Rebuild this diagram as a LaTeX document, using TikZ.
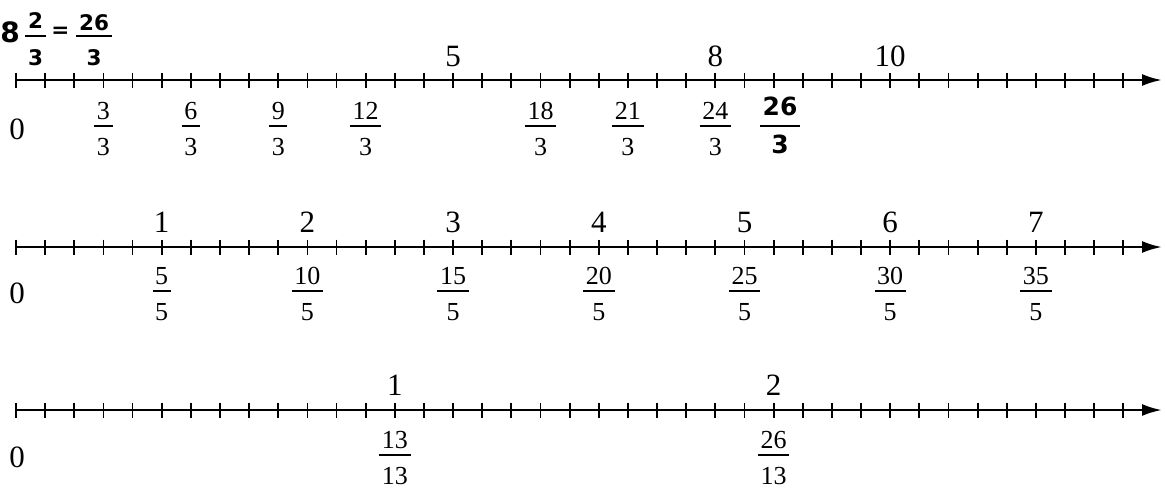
\documentclass[tikz,border=0pt]{standalone}
\usepackage{fontspec}
\setmainfont{Liberation Serif}
\newfontfamily\comicfont{DejaVu Sans}
\usetikzlibrary{arrows.meta,calc}
\tikzset{
  axisline/.style={line width=2.6pt,-{Latex[length=20pt,width=12pt]}},
  tickline/.style={line width=1.8pt},
  fbar/.style={line width=1.2pt},
  big/.style={font=\fontsize{31}{36}\selectfont,inner sep=0pt},
  fn/.style={font=\fontsize{26}{30}\selectfont,inner sep=0pt},
  bfn/.style={font=\comicfont\bfseries\fontsize{25}{30}\selectfont,inner sep=0pt},
  tl/.style={font=\comicfont\bfseries\fontsize{21.5}{25}\selectfont,inner sep=0pt},
  tlbig/.style={font=\comicfont\bfseries\fontsize{28}{32}\selectfont,inner sep=0pt},
}
% #1 name, #2 x, #3 bar y, #4 num, #5 den, #6 style, #7 num offset, #8 den offset, #9 bar pad
\newcommand\fracat[9]{%
  \coordinate (#1b) at (#2,#3);
  \node[#6,anchor=base] (#1n) at (#2,#3+#7) {#4};
  \node[#6,anchor=base] (#1d) at (#2,#3+#8) {#5};
  \draw[fbar] ([xshift=-#9]#1n.west |- #1b) -- ([xshift=#9]#1n.east |- #1b);
}
\newcommand\tx[1]{16+29.14*#1}
\begin{document}
\begin{tikzpicture}[x=1pt,y=-1pt]
\useasboundingbox (0,0) rectangle (1165,490);

% ---------- Row 1 ----------
\coordinate (a1s) at (16,80);
\coordinate (a1e) at (1162,80);
\foreach \i in {0,...,38} \draw[tickline] ({\tx{\i}},72.5) -- ({\tx{\i}},87.5);
\draw[axisline] (a1s) -- (a1e);
\node[big,anchor=base] (r1z) at (17,139) {0};
\foreach \v/\t in {5/15,8/24,10/30}
  \node[big,anchor=base] (r1t\v) at ({\tx{\t}},66) {\v};
\foreach \n/\t in {3/3,6/6,9/9,12/12,18/18,21/21,24/24}
  {\fracat{r1f\n}{\tx{\t}}{126}{\n}{3}{fn}{-7}{29.5}{2.5pt}}
\fracat{r1fb}{780}{126}{26}{3}{bfn}{-11}{27.5}{2pt}

% top-left expression
\node[tlbig,anchor=base] (e8) at (10,42) {8};
\fracat{e1}{35.5}{36}{2}{3}{tl}{-7.5}{29.5}{2.5pt}
\node[tl] (eq) at (60.5,32) {=};
\fracat{e2}{94}{36}{26}{3}{tl}{-6}{29.5}{3pt}

% ---------- Row 2 ----------
\coordinate (a2s) at (16,247);
\coordinate (a2e) at (1162,247);
\foreach \i in {0,...,38} \draw[tickline] ({\tx{\i}},239.5) -- ({\tx{\i}},254.5);
\draw[axisline] (a2s) -- (a2e);
\node[big,anchor=base] (r2z) at (17,303) {0};
\foreach \k in {1,...,7} {
  \node[big,anchor=base] (r2t\k) at ({\tx{5*\k}},232) {\k};
  \pgfmathtruncatemacro\num{5*\k}
  \fracat{r2f\k}{\tx{5*\k}}{291}{\num}{5}{fn}{-7}{29.5}{2.5pt}
}

% ---------- Row 3 ----------
\coordinate (a3s) at (16,410);
\coordinate (a3e) at (1162,410);
\foreach \i in {0,...,38} \draw[tickline] ({\tx{\i}},402.5) -- ({\tx{\i}},417.5);
\draw[axisline] (a3s) -- (a3e);
\node[big,anchor=base] (r3z) at (17,467) {0};
\node[big,anchor=base] (r3t1) at ({\tx{13}},395) {1};
\node[big,anchor=base] (r3t2) at ({\tx{26}},395) {2};
\fracat{r3f1}{\tx{13}}{455}{13}{13}{fn}{-7}{29.5}{2.5pt}
\fracat{r3f2}{\tx{26}}{455}{26}{13}{fn}{-7}{29.5}{2.5pt}
\end{tikzpicture}
\end{document}
